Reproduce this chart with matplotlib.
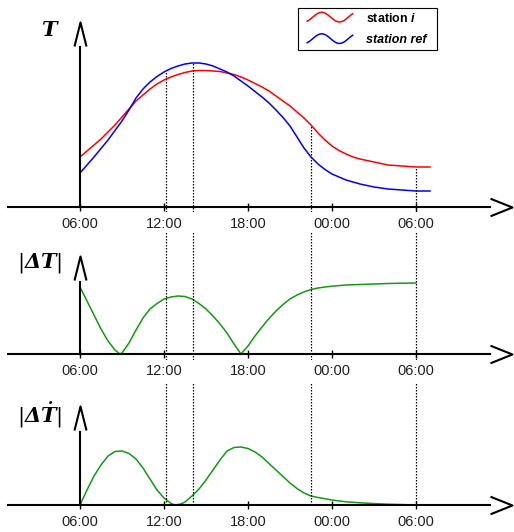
import matplotlib
matplotlib.use("Agg")
import matplotlib.pyplot as plt
import numpy as np
from matplotlib.path import Path
from matplotlib.lines import Line2D
from matplotlib.legend_handler import HandlerBase

# ---------------- data (hours of day, arbitrary units) ----------------
t_hours = [6, 6.5, 7, 7.5, 8, 8.5, 9, 9.5, 10, 10.5, 11, 11.5, 12, 12.5, 13, 13.5, 14,
           14.5, 15, 15.5, 16, 16.5, 17, 17.5, 18, 18.5, 19, 19.5, 20, 20.5, 21, 21.5,
           22, 22.5, 23, 23.5, 24, 24.5, 25, 25.5, 26, 26.5, 27, 27.5, 28, 28.5, 29,
           29.5, 30, 30.5, 31]
T_station_i = [5.0, 5.6, 6.2, 6.8, 7.5, 8.2, 9.0, 9.8, 10.6, 11.2, 11.8, 12.3, 12.7, 13.0,
               13.25, 13.45, 13.6, 13.65, 13.65, 13.6, 13.55, 13.4, 13.25, 13.0, 12.7,
               12.35, 12.0, 11.6, 11.1, 10.6, 10.1, 9.5, 8.9, 8.2, 7.4, 6.7, 6.1, 5.65,
               5.3, 5.0, 4.8, 4.65, 4.5, 4.35, 4.2, 4.15, 4.1, 4.05, 4.0, 4.0, 4.0]
T_station_ref = [3.4, 4.2, 5.0, 5.85, 6.7, 7.65, 8.6, 9.7, 10.9, 11.8, 12.5, 13.05, 13.5,
                 13.85, 14.1, 14.3, 14.4, 14.4, 14.3, 14.1, 13.8, 13.5, 13.1, 12.6, 12.1,
                 11.55, 11.0, 10.4, 9.7, 8.95, 8.1, 7.0, 5.9, 5.0, 4.3, 3.75, 3.3, 3.0,
                 2.7, 2.5, 2.3, 2.15, 2.0, 1.9, 1.8, 1.75, 1.7, 1.65, 1.6, 1.6, 1.6]

dT_hours = [6, 6.5, 7, 7.5, 8, 8.5, 8.85, 9, 9.5, 10, 10.5, 11, 11.5, 12, 12.5, 13, 13.5,
            14, 14.5, 15, 15.5, 16, 16.5, 17, 17.5, 18, 18.5, 19, 19.5, 20, 20.5, 21,
            21.5, 22, 22.5, 23, 23.5, 24, 25, 26, 27, 28, 29, 30]
dT_abs = [6.7, 5.3, 3.9, 2.5, 1.3, 0.4, 0.0, 0.1, 1.1, 2.4, 3.6, 4.5, 5.05, 5.5, 5.7, 5.8,
          5.75, 5.5, 5.05, 4.5, 3.8, 3.0, 2.1, 1.0, 0.0, 0.8, 1.8, 2.7, 3.55, 4.3, 4.95,
          5.5, 5.9, 6.2, 6.45, 6.6, 6.7, 6.78, 6.9, 6.95, 7.0, 7.05, 7.08, 7.1]

dTdot_hours = [6, 6.5, 7, 7.5, 8, 8.5, 9, 9.5, 10, 10.5, 11, 11.5, 12, 12.5, 12.8, 13.2,
               13.5, 14, 14.5, 15, 15.5, 16, 16.5, 17, 17.5, 18, 18.5, 19, 19.5, 20,
               20.5, 21, 21.5, 22, 22.5, 23, 24, 25, 26, 27, 28, 29, 30]
dTdot_abs = [0.0, 1.5, 2.9, 4.0, 4.9, 5.35, 5.4, 5.15, 4.6, 3.7, 2.6, 1.5, 0.7, 0.15, 0.0,
             0.1, 0.3, 0.9, 1.6, 2.5, 3.5, 4.5, 5.4, 5.75, 5.8, 5.65, 5.3, 4.8, 4.15,
             3.5, 2.85, 2.2, 1.65, 1.2, 0.9, 0.75, 0.5, 0.32, 0.22, 0.14, 0.08, 0.04,
             0.0]

marker_hours = [12.14, 14.07, 22.5, 30.0]
tick_hours = [6, 12, 18, 24, 30]
tick_labels = ["06:00", "12:00", "18:00", "00:00", "06:00"]
legend_labels = ["station $\\mathsf{i}$", "station ref"]

# ---------------- styling ----------------
plt.rcParams["mathtext.fontset"] = "custom"
plt.rcParams["mathtext.rm"] = "DejaVu Serif"
plt.rcParams["mathtext.it"] = "DejaVu Serif:italic"
plt.rcParams["mathtext.bf"] = "DejaVu Serif:bold:italic"
plt.rcParams["mathtext.sf"] = "Liberation Sans:bold:italic"

W, H = 514, 532
fig = plt.figure(figsize=(W / 100, H / 100), dpi=100)

RED, BLUE, GREEN = "#ff0000", "#0000ff", "#139a13"
X0 = 6 - 80 / 14
X1 = 6 + (W - 80) / 14


def px2h(px):
    return 6 + (px - 80) / 14


def make_ax(top_px, bot_px, axis_px):
    ax = fig.add_axes([0, 1 - bot_px / H, 1, (bot_px - top_px) / H])
    ax.set_xlim(X0, X1)
    ax.set_ylim((axis_px - bot_px) / 10, (axis_px - top_px) / 10)
    ax.patch.set_alpha(0)
    return ax


def style_axes(ax, axis_px, shaft_top_px, chev_px):
    for s in ["top", "right"]:
        ax.spines[s].set_visible(False)
    ax.spines["bottom"].set_position(("data", 0))
    ax.spines["bottom"].set_bounds(px2h(8), px2h(490))
    ax.spines["left"].set_position(("data", 6))
    ax.spines["left"].set_bounds(0, (axis_px - shaft_top_px) / 10)
    for s in ["bottom", "left"]:
        ax.spines[s].set_linewidth(1.5)
        ax.spines[s].set_color("black")
    ax.set_yticks([])
    ax.set_xticks(tick_hours)
    ax.set_xticklabels(tick_labels, fontfamily="Liberation Sans", fontsize=10.5,
                       color="#222222")
    ax.tick_params(axis="x", direction="inout", length=6, width=1, pad=4)
    up = Path([(-0.5, -1), (0, 1), (0.5, -1)], [Path.MOVETO, Path.LINETO, Path.LINETO])
    right = Path([(-1, 0.8), (1, 0), (-1, -0.8)], [Path.MOVETO, Path.LINETO, Path.LINETO])
    ax.plot([6], [(axis_px - chev_px) / 10], marker=up, markersize=17.3,
            markerfacecolor="none", markeredgecolor="black", markeredgewidth=1.5,
            clip_on=False)
    ax.plot([px2h(501)], [0], marker=right, markersize=15.8,
            markerfacecolor="none", markeredgecolor="black", markeredgewidth=1.5,
            clip_on=False)


dot_style = dict(color="black", lw=0.9, ls=(0, (1.2, 1.2)))

# Panel 1
ax1 = make_ax(0, 212, 207)
style_axes(ax1, 207, 47, 34)
line_i, = ax1.plot(t_hours, T_station_i, color=RED, lw=1.1)
line_ref, = ax1.plot(t_hours, T_station_ref, color=BLUE, lw=1.1)
tops = np.maximum(np.interp(marker_hours, t_hours, T_station_i),
                  np.interp(marker_hours, t_hours, T_station_ref))
ax1.vlines(marker_hours, ax1.get_ylim()[0], tops, **dot_style)
ax1.text(px2h(50), (207 - 30) / 10, r"$\mathbf{T}$", fontsize=15,
         ha="center", va="center")

# Panel 2
ax2 = make_ax(232, 360, 354)
style_axes(ax2, 354, 282, 268)
ax2.plot(dT_hours, dT_abs, color=GREEN, lw=1.1)
for h in marker_hours:
    ax2.axvline(h, 0, 1, **dot_style)
ax2.text(px2h(40), (354 - 263) / 10, r"$|\mathbf{\Delta T}|$", fontsize=15,
         ha="center", va="center")

# Panel 3
ax3 = make_ax(383, 532, 505)
style_axes(ax3, 505, 432, 418)
ax3.plot(dTdot_hours, dTdot_abs, color=GREEN, lw=1.1)
ax3.vlines(marker_hours, 0, ax3.get_ylim()[1], **dot_style)
ax3.text(px2h(40), (505 - 415) / 10, r"$|\mathbf{\Delta\dot{T}}|$", fontsize=15,
         ha="center", va="center")


class WaveHandler(HandlerBase):
    def create_artists(self, legend, orig_handle, xdescent, ydescent, width, height,
                       fontsize, trans):
        u = np.linspace(0, 1, 60)
        x = -xdescent + 0.11 * width + u * 0.89 * width
        y = -ydescent + height / 2 + 0.55 * height * np.sin(2 * np.pi * u / 0.78 - 1.0)
        ln = Line2D(x, y, color=orig_handle.get_color(), lw=orig_handle.get_linewidth())
        ln.set_transform(trans)
        return [ln]


handles = [line_i, line_ref]
leg = fig.legend(handles, legend_labels,
                 handler_map={h: WaveHandler() for h in handles},
                 loc="upper left",
                 bbox_to_anchor=(298 / W, (H - 49) / H, 139 / W, 41 / H),
                 mode="expand",
                 borderaxespad=0, fancybox=False, edgecolor="black", framealpha=1,
                 prop={"family": "Liberation Sans", "weight": "bold", "size": 9},
                 handlelength=4.1, handletextpad=1.04, labelspacing=0.76,
                 borderpad=0.28)
leg.get_frame().set_linewidth(0.8)
leg.get_texts()[1].set_fontstyle("italic")

fig.savefig("out.png", dpi=100)
